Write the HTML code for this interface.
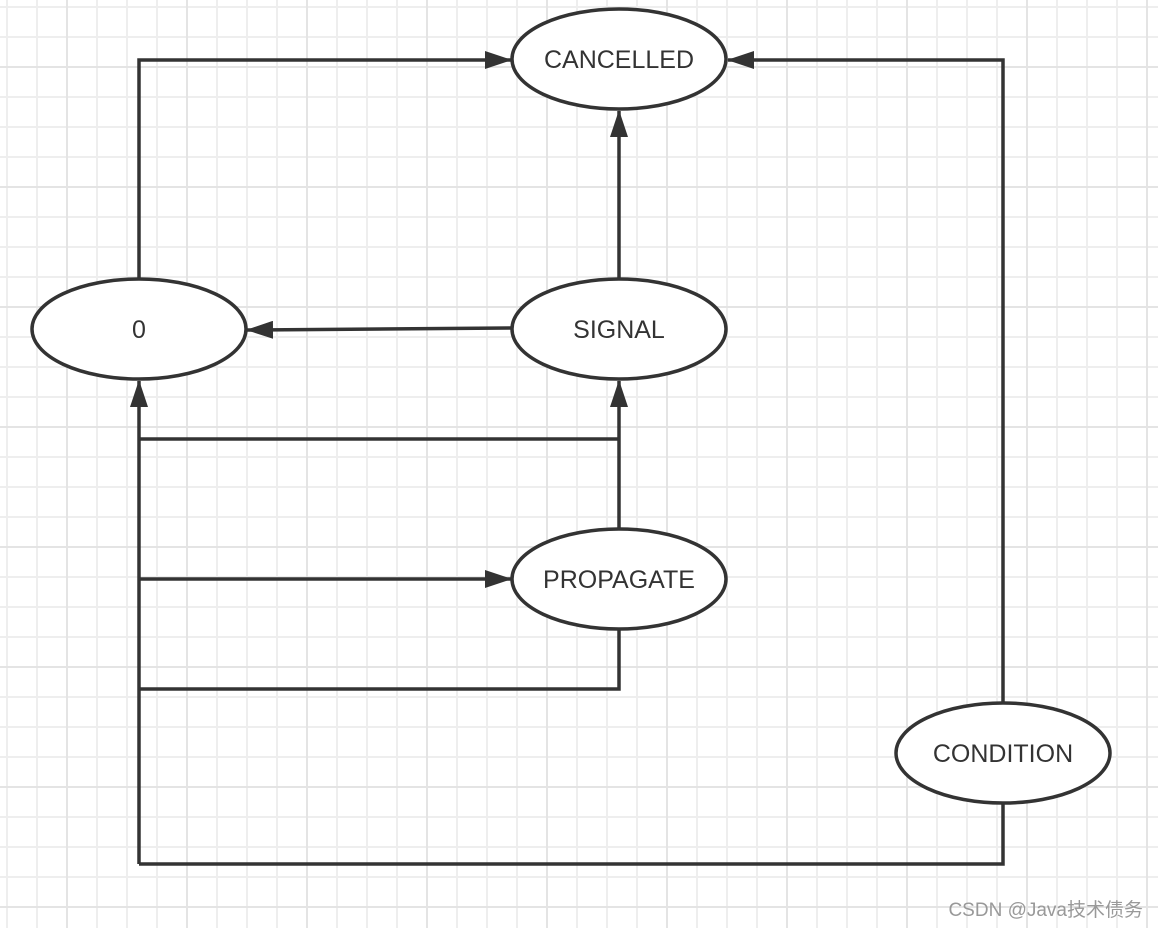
<!DOCTYPE html>
<html><head><meta charset="utf-8"><style>
html,body{margin:0;padding:0;background:#fff;}
svg{display:block;}
text{font-family:"Liberation Sans","Noto Sans CJK SC",sans-serif;fill:#333;}
</style></head><body>
<svg width="1158" height="928" viewBox="0 0 1158 928" xmlns="http://www.w3.org/2000/svg">
<defs>
<pattern id="g" x="6" y="6" width="30" height="30" patternUnits="userSpaceOnUse">
<rect x="0" y="0" width="30" height="2" fill="#eeeeee"/>
<rect x="0" y="0" width="2" height="30" fill="#eeeeee"/>
</pattern>
<pattern id="G" x="66" y="66" width="120" height="120" patternUnits="userSpaceOnUse">
<rect x="0" y="0" width="120" height="2" fill="#e4e4e4"/>
<rect x="0" y="0" width="2" height="120" fill="#e4e4e4"/>
</pattern>
<marker id="a" markerWidth="28" markerHeight="18" refX="26" refY="9" orient="auto" markerUnits="userSpaceOnUse">
<path d="M0 0L27 9L0 18Z" fill="#333"/>
</marker>
</defs>
<rect width="1158" height="928" fill="url(#g)"/>
<rect width="1158" height="928" fill="url(#G)"/>
<g stroke="#333" stroke-width="3.5" fill="none" stroke-linejoin="miter">
<path d="M139 279V60H511" marker-end="url(#a)"/>
<path d="M1003 703V60H728" marker-end="url(#a)"/>
<path d="M619 279V111" marker-end="url(#a)"/>
<path d="M511 328L247 330" marker-end="url(#a)"/>
<path d="M139 864V381" marker-end="url(#a)"/>
<path d="M139 439H619"/>
<path d="M619 529V381" marker-end="url(#a)"/>
<path d="M139 579H511" marker-end="url(#a)"/>
<path d="M139 689H619V630"/>
<path d="M1003 803V864H139"/>
<ellipse cx="619" cy="59" rx="107" ry="50" fill="#fff"/>
<ellipse cx="139" cy="329" rx="107" ry="50" fill="#fff"/>
<ellipse cx="619" cy="329" rx="107" ry="50" fill="#fff"/>
<ellipse cx="619" cy="579" rx="107" ry="50" fill="#fff"/>
<ellipse cx="1003" cy="753" rx="107" ry="50" fill="#fff"/>
</g>
<g font-size="25" text-anchor="middle">
<text x="619" y="68">CANCELLED</text>
<text x="139" y="338">0</text>
<text x="619" y="338">SIGNAL</text>
<text x="619" y="588">PROPAGATE</text>
<text x="1003" y="762">CONDITION</text>
</g>
<text x="1143" y="916" font-size="19" text-anchor="end" style="fill:#999">CSDN @Java技术债务</text>
</svg>
</body></html>
